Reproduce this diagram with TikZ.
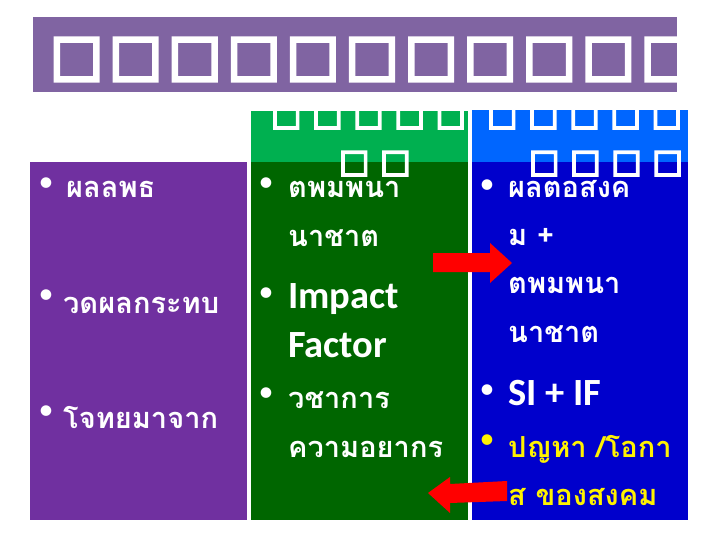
\documentclass[tikz,border=0pt]{standalone}
\usepackage{fontspec}
\setmainfont{Carlito}
\newfontfamily\thaifont[Script=Thai]{Loma}
\newfontfamily\bigtofufont[FakeBold=6,LetterSpace=11]{DejaVu Sans Bold}
\newfontfamily\tofufont[FakeBold=6,LetterSpace=34]{DejaVu Sans Bold}
\definecolor{barpurple}{HTML}{8064A2}
\definecolor{colpurple}{HTML}{7030A0}
\definecolor{headgreen}{HTML}{00B050}
\definecolor{bodygreen}{HTML}{006600}
\definecolor{headblue}{HTML}{0066FF}
\definecolor{bodyblue}{HTML}{0000CC}
\tikzset{
  thai/.style={anchor=base west,inner sep=0pt,text=white,font=\thaifont\bfseries\fontsize{29}{29}\selectfont},
  latin/.style={anchor=base west,inner sep=0pt,text=white,font=\bfseries\fontsize{38.5}{38.5}\selectfont},
  dot/.style={anchor=center,inner sep=0pt,text=white,font=\fontsize{30}{30}\selectfont},
  bigtofu/.style={anchor=base west,inner sep=0pt,text=white,font=\bigtofufont\fontsize{56}{56}\selectfont},
  tofu/.style={anchor=base west,inner sep=0pt,text=white,font=\tofufont\fontsize{32}{32}\selectfont},
  redarrow/.style={fill=red}
}
\begin{document}
\begin{tikzpicture}[x=1pt,y=-1pt]
    \useasboundingbox (0,0) rectangle (720,540);
    % boxes
    \fill[barpurple] (33,17) rectangle (677,92);
    \fill[colpurple] (30,162) rectangle (247,520);
    \fill[bodygreen] (251,162) rectangle (468,520);\fill[headgreen] (251,111) rectangle (468,162);
    \fill[bodyblue] (472,162) rectangle (688,520);\fill[headblue] (472,110) rectangle (688,162);
    % titles
    \begin{scope}
        \clip (33,17) rectangle (677,92);
        \node[bigtofu] (title) at (50,74) {□□□□□□□□□□□□};
    \end{scope}
    \begin{scope}
        \clip (251,111) rectangle (468,200);
        \node[tofu] (ghead1) at (271,125) {□□□□□};\node[tofu] (ghead2) at (339,172) {□□};
    \end{scope}
    \begin{scope}
        \clip (472,110) rectangle (688,200);
        \node[tofu] (bhead1) at (487,125) {□□□□□};\node[tofu] (bhead2) at (529,172) {□□□□};
    \end{scope}
    % left
    \node[dot] (lb1) at (46,185) {•};\node[thai] (l1) at (66,198) {ผลลพธ};
    \node[dot] (lb2) at (46,297) {•};\node[thai] (l2) at (63,313) {วดผลกระทบ};
    \node[dot] (lb3) at (46,413) {•};\node[thai] (l3) at (63,428) {โจทยมาจาก};
    % middle
    \node[dot] (mb1) at (266,185) {•};\node[thai] (m1) at (288,197) {ตพมพนา};
    \node[thai] (m2) at (288,246) {นาชาต};
    \node[dot] (mb2) at (266,295) {•};\node[latin] (m3) at (288,308) {Impact};
    \node[latin] (m4) at (288,357) {Factor};
    \node[dot] (mb3) at (266,395) {•};\node[thai] (m5) at (288,408) {วชาการ};
    \node[thai] (m6) at (288,457) {ความอยากร};
    % right
    \node[dot] (rb1) at (487,187) {•};\node[thai] (r1) at (508,197) {ผลตอสงค};
    \node[thai] (r2) at (508,245) {ม +};
    \node[thai] (r3) at (508,293) {ตพมพนา};
    \node[thai] (r4) at (508,342) {นาชาต};
    \node[dot] (rb2) at (487,392) {•};\node[latin] (r5) at (508,405) {SI + IF};
    \node[dot,text=yellow] (rb3) at (487,442) {•};\node[thai,text=yellow] (r6) at (508,457) {ปญหา /โอกา};
    \node[thai,text=yellow] (r7) at (508,505) {ส ของสงคม};
    % arrows
    \fill[redarrow] (433,253) -- (490,253) -- (490,243) -- (512,263) -- (490,283) -- (490,272) -- (433,272) -- cycle;
    \fill[redarrow] (428,493) -- (450,477) -- (450,484) -- (507,481) -- (507,501) -- (450,503) -- (450,513) -- cycle;
\end{tikzpicture}
\end{document}
